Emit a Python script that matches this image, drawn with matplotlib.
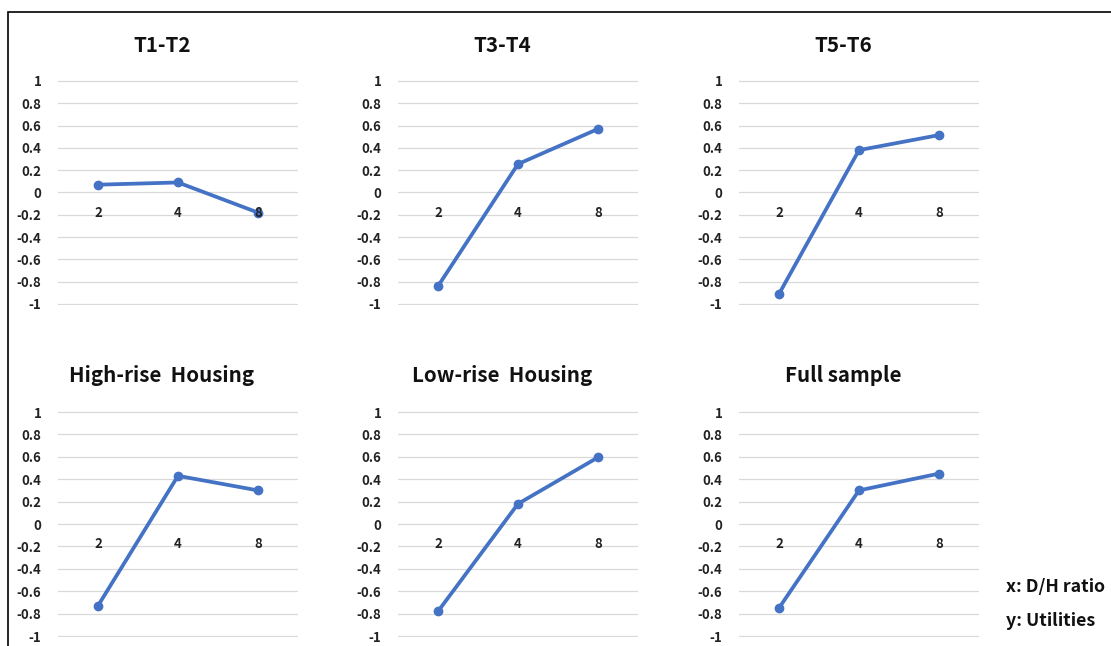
import numpy as np
import matplotlib.pyplot as plt
from matplotlib.patches import Rectangle

plt.rcParams['font.family'] = ['Noto Sans CJK KR', 'DejaVu Sans']

# data
ratios = ['2', '4', '8']
titles = ['T1-T2', 'T3-T4', 'T5-T6',
          'High-rise  Housing', 'Low-rise  Housing', 'Full sample']
t1_t2 = [0.07, 0.09, -0.18]
t3_t4 = [-0.84, 0.255, 0.57]
t5_t6 = [-0.91, 0.38, 0.515]
high_rise = [-0.73, 0.43, 0.30]
low_rise = [-0.78, 0.18, 0.595]
full_sample = [-0.75, 0.30, 0.45]
series = [t1_t2, t3_t4, t5_t6, high_rise, low_rise, full_sample]
yticks = [1, 0.8, 0.6, 0.4, 0.2, 0, -0.2, -0.4, -0.6, -0.8, -1]

W, H = 1111, 646
fig = plt.figure(figsize=(W / 100, H / 100), dpi=100)

# outer frame (runs off the right and bottom edges)
fig.patches.append(Rectangle((8 / W, -0.1), 1.2, 1 - 12 / H + 0.1,
                             transform=fig.transFigure, fill=False,
                             edgecolor='black', linewidth=1.2))

lefts = [58, 398, 739]
tops = [81, 412]
heights = [223, 224]
blue = '#4472C4'
pad = 0.012

for i, (vals, title) in enumerate(zip(series, titles)):
    r, c = divmod(i, 3)
    left = lefts[c]
    h = heights[r] * (1 + pad)
    ax = fig.add_axes([left / W, 1 - (tops[r] + heights[r] * (1 + pad / 2)) / H,
                       240 / W, h / H])
    x = np.arange(len(ratios))
    ax.plot(x, vals, color=blue, lw=2.7, marker='o', ms=6, clip_on=False,
            zorder=3)
    ax.set_xlim(-0.5, 2.5)
    ax.set_ylim(-1 - pad, 1 + pad)
    ax.set_yticks(yticks)
    ax.set_yticklabels([f'{v:g}' for v in yticks], fontsize=9.5,
                       fontweight='bold', color='#222222')
    ax.grid(axis='y', color='#D9D9D9', lw=0.9)
    ax.set_axisbelow(True)
    for s in ax.spines.values():
        s.set_visible(False)
    ax.tick_params(axis='y', length=0, pad=12)
    ax.set_xticks([])
    for xi, lab in zip(x, ratios):
        ax.text(xi, -0.18, lab, ha='center', va='center', fontsize=9.5,
                fontweight='bold', color='#222222', zorder=4)
    title_y = 45 if r == 0 else 376
    fig.text((left + 104) / W, 1 - title_y / H, title, ha='center',
             va='center', fontsize=14.8, fontweight='bold', color='#111111')

fig.text(1006 / W, 1 - 587 / H, 'x: D/H ratio', ha='left', va='center',
         fontsize=12.8, fontweight='bold', color='#111111')
fig.text(1006 / W, 1 - 621 / H, 'y: Utilities', ha='left', va='center',
         fontsize=12.8, fontweight='bold', color='#111111')

fig.savefig('out.png', dpi=100)
